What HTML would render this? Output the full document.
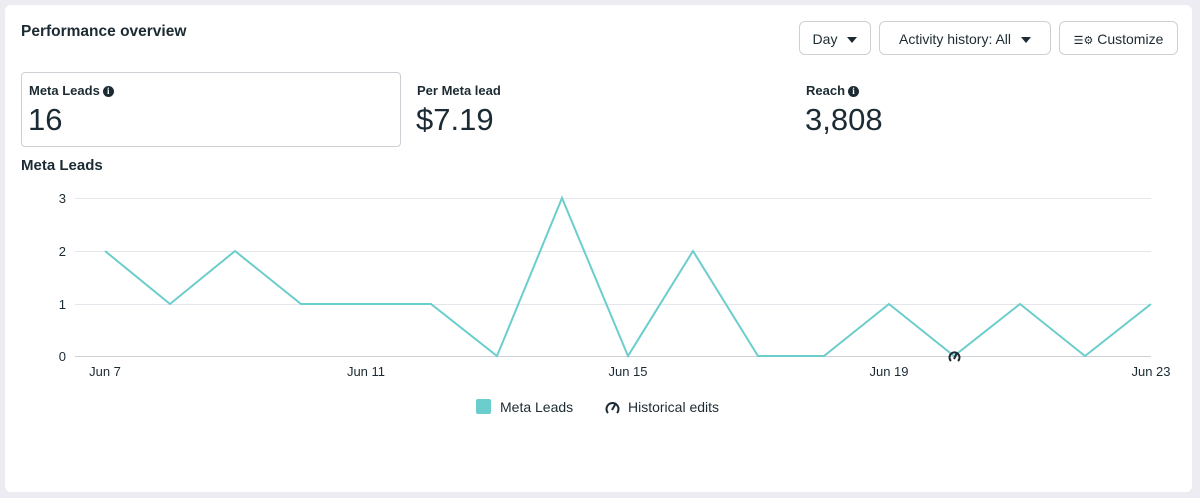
<!DOCTYPE html>
<html><head><meta charset="utf-8"><style>
body{margin:0;width:1200px;height:498px;background:#eeecf3;font-family:"Liberation Sans",sans-serif;color:#1c2b33;position:relative;overflow:hidden}
.card{position:absolute;left:5px;top:5px;width:1187px;height:487px;background:#fff;border-radius:6px}
.t{position:absolute;font-weight:bold}
.btn{position:absolute;top:21px;height:34px;border:1px solid #ccd0d5;border-radius:6px;font-size:14px;line-height:34px;box-sizing:border-box;text-align:center}
.tri{display:inline-block;width:0;height:0;border-left:5px solid transparent;border-right:5px solid transparent;border-top:6px solid #1c2b33;vertical-align:middle;margin-left:10px}
.lbl{position:absolute;font-size:13px;font-weight:bold}
.val{position:absolute;font-size:31px}
.i{display:inline-block;width:11px;height:11px;border-radius:50%;background:#1c2b33;color:#fff;font-size:9px;line-height:11px;text-align:center;vertical-align:1px;margin-left:3px;font-family:"Liberation Serif",serif;font-weight:bold}
</style></head><body>
<div class="card"></div>
<div class="t" style="left:21px;top:23px;font-size:15.5px">Performance overview</div>
<div class="btn" style="left:799px;width:72px">Day<span class="tri"></span></div>
<div class="btn" style="left:879px;width:172px">Activity history: All<span class="tri"></span></div>
<div class="btn" style="left:1059px;width:119px"><span style="font-size:11px">☰⚙</span> Customize</div>
<div style="position:absolute;left:21px;top:72px;width:380px;height:75px;border:1px solid #ccd0d5;border-radius:4px;box-sizing:border-box"></div>
<div class="lbl" style="left:29px;top:83px">Meta Leads<span class="i">i</span></div>
<div class="val" style="left:28px;top:102px">16</div>
<div class="lbl" style="left:417px;top:83px">Per Meta lead</div>
<div class="val" style="left:416px;top:102px">$7.19</div>
<div class="lbl" style="left:806px;top:83px">Reach<span class="i">i</span></div>
<div class="val" style="left:805px;top:102px">3,808</div>
<div class="t" style="left:21px;top:157px;font-size:15px">Meta Leads</div>
<svg width="1200" height="498" style="position:absolute;left:0;top:0" font-family="Liberation Sans" font-size="13" fill="#1c2b33">
<g stroke="#e4e6eb" stroke-width="1">
<line x1="75" y1="198.5" x2="1151" y2="198.5"/><line x1="75" y1="251.5" x2="1151" y2="251.5"/><line x1="75" y1="304.5" x2="1151" y2="304.5"/><line x1="75" y1="356.5" x2="1151" y2="356.5" stroke="#ccd0d5"/>
</g>
<g text-anchor="end"><text x="66" y="203">3</text><text x="66" y="256">2</text><text x="66" y="309">1</text><text x="66" y="361">0</text></g>
<g text-anchor="middle"><text x="105" y="376">Jun 7</text><text x="366" y="376">Jun 11</text><text x="628" y="376">Jun 15</text><text x="889" y="376">Jun 19</text><text x="1151" y="376">Jun 23</text></g>
<polyline fill="none" stroke="#6bcdcc" stroke-width="2" stroke-linejoin="miter" points="105,251 170,304 235,251 301,304 366,304 431,304 497,356 562,198 628,356 693,251 758,356 824,356 889,304 954,356 1020,304 1085,356 1151,304"/>
<g fill="none" stroke="#1c2b33" stroke-width="2"><path d="M951,361 a5,5 0 1 1 7,0"/><line x1="954" y1="359" x2="957" y2="353"/></g>
<rect x="476" y="399" width="15" height="15" rx="2" fill="#6bcdcc"/>
<text x="500" y="412" font-size="14">Meta Leads</text>
<g fill="none" stroke="#1c2b33" stroke-width="2"><path d="M608,413 a6,6 0 1 1 9,0"/><line x1="612" y1="410" x2="616" y2="403"/></g>
<text x="628" y="412" font-size="14">Historical edits</text>
</svg>
</body></html>
